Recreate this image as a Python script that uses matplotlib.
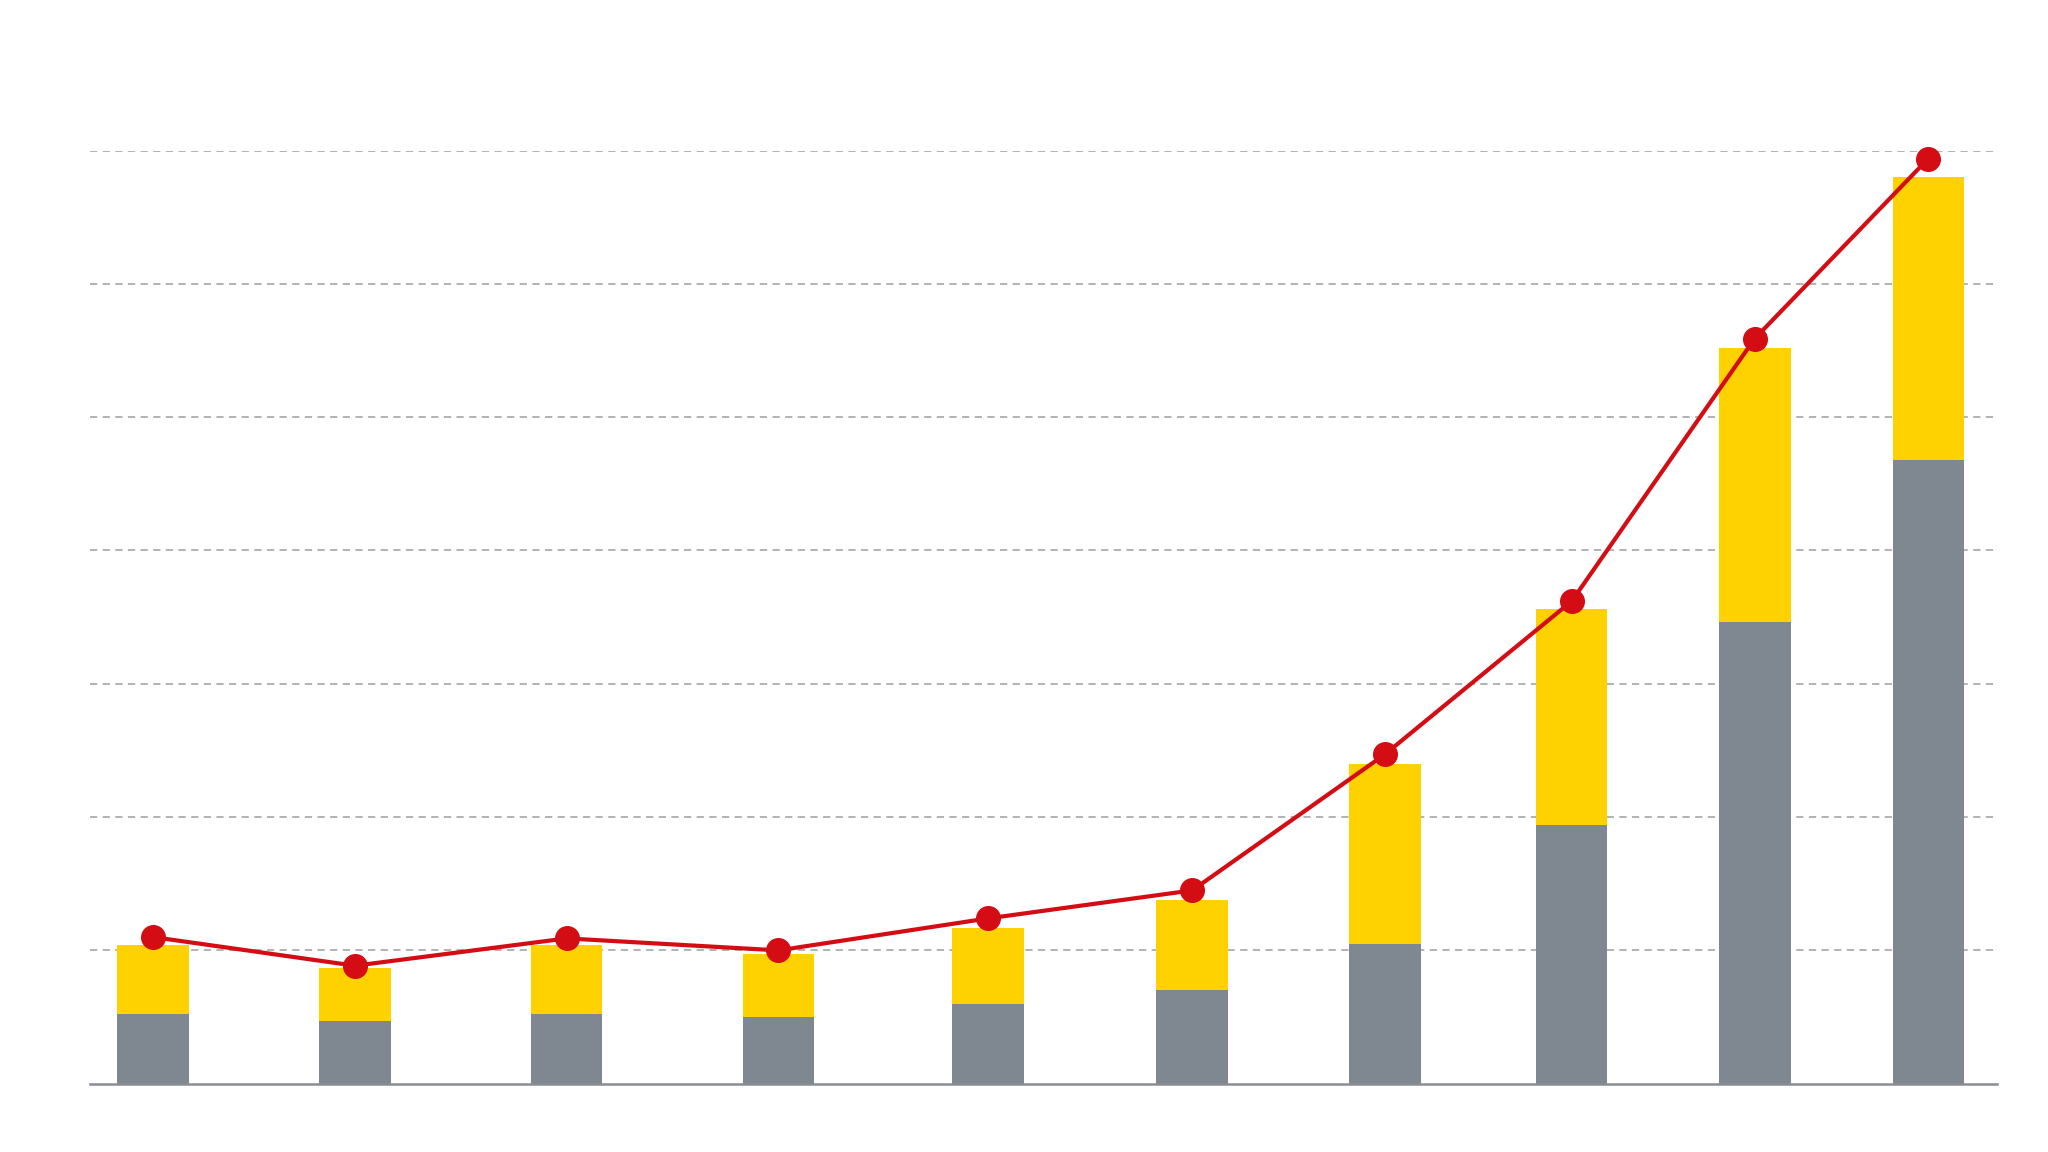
import matplotlib.pyplot as plt
import numpy as np

# data (gridline spacing = 1 unit)
x_vals = [3.3, 13.9, 25.0, 36.1, 47.1, 57.8, 67.9, 77.7, 87.3, 96.4]
gray_vals = [0.52, 0.47, 0.52, 0.50, 0.60, 0.70, 1.05, 1.94, 3.46, 4.68]
yellow_vals = [0.52, 0.40, 0.52, 0.47, 0.57, 0.68, 1.35, 1.62, 2.06, 2.12]
line_vals = [1.10, 0.885, 1.09, 1.00, 1.24, 1.45, 2.47, 3.62, 5.59, 6.94]
grid_levels = [1, 2, 3, 4, 5, 6, 7]

gray = '#7f8790'
yellow = '#fdd200'
red = '#d40c14'

fig = plt.figure(figsize=(20.48, 11.52), dpi=100)
ax = fig.add_axes([0.0439, 0.0593, 0.9312, 0.81])

for g in grid_levels:
    ax.axhline(g, color='#adadad', linestyle=(0, (4, 3)), linewidth=1.3, zorder=0)

ax.bar(x_vals, gray_vals, width=3.75, color=gray, zorder=2)
ax.bar(x_vals, yellow_vals, width=3.75, bottom=gray_vals, color=yellow, zorder=2)
ax.plot(x_vals, line_vals, color=red, linewidth=3.0, marker='o', markersize=17,
        zorder=3, clip_on=False)

ax.set_xlim(0, 100)
ax.set_ylim(0, 7)
for s in ['top', 'right', 'left']:
    ax.spines[s].set_visible(False)
ax.spines['bottom'].set_color('#888d94')
ax.spines['bottom'].set_linewidth(1.8)
ax.set_xticks([])
ax.set_yticks([])

plt.savefig('out.png', dpi=100, facecolor='white')
plt.close()
